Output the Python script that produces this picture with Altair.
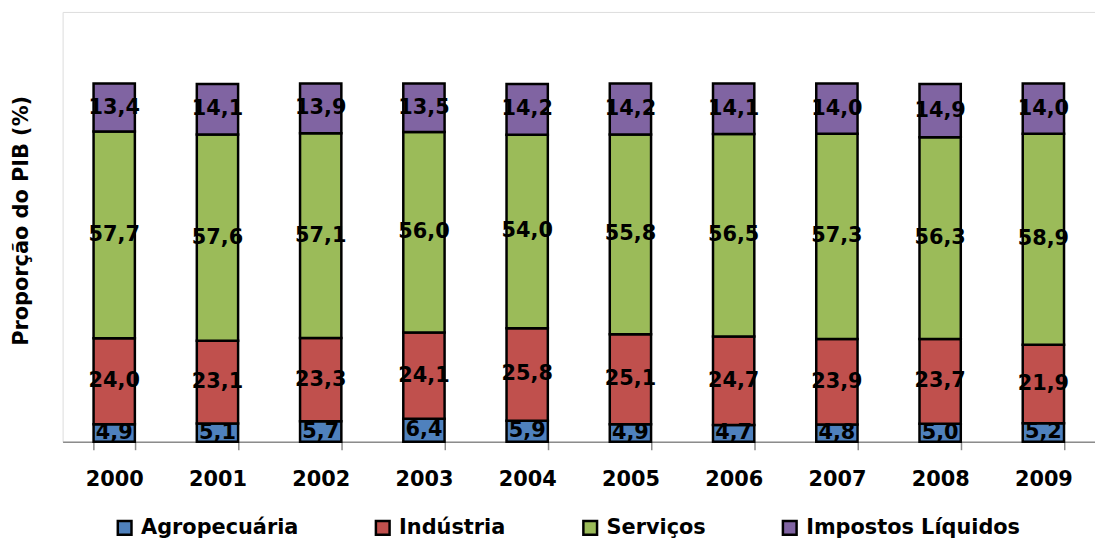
import altair as alt
import pandas as pd

years = ["2000", "2001", "2002", "2003", "2004", "2005", "2006", "2007", "2008", "2009"]
series = ["Agropecuária", "Indústria", "Serviços", "Impostos Líquidos"]
agro = [4.9, 5.1, 5.7, 6.4, 5.9, 4.9, 4.7, 4.8, 5.0, 5.2]
industria = [24.0, 23.1, 23.3, 24.1, 25.8, 25.1, 24.7, 23.9, 23.7, 21.9]
servicos = [57.7, 57.6, 57.1, 56.0, 54.0, 55.8, 56.5, 57.3, 56.3, 58.9]
impostos = [13.4, 14.1, 13.9, 13.5, 14.2, 14.2, 14.1, 14.0, 14.9, 14.0]
colors = ["#4f81bd", "#c0504d", "#9bbb59", "#8064a2"]

rows = []
for k, (name, vals) in enumerate(zip(series, [agro, industria, servicos, impostos])):
    for y, v in zip(years, vals):
        rows.append({"year": y, "series": name, "order": k, "value": v,
                     "label": f"{v:.1f}".replace(".", ",")})
df = pd.DataFrame(rows)

FONT = "DejaVu Sans"

base = alt.Chart(df).transform_stack(
    stack="value", groupby=["year"], as_=["y0", "y1"], sort=[alt.SortField("order")]
).transform_calculate(mid="(datum.y0 + datum.y1) / 2")

x_enc = alt.X("year:N", sort=years,
              scale=alt.Scale(paddingInner=0.6, paddingOuter=0.3),
              axis=alt.Axis(title=None, labelAngle=0, labelFont=FONT, labelFontSize=21,
                            labelFontWeight="bold", labelColor="#000000", labelPadding=19,
                            tickBand="extent", tickSize=8, tickColor="#8c8c8c", tickWidth=1.5,
                            domainColor="#8c8c8c", domainWidth=1.5, grid=False))

bars = base.mark_bar(stroke="#000000", strokeWidth=2.5).encode(
    x=x_enc,
    y=alt.Y("y0:Q", scale=alt.Scale(domain=[0, 120]),
            axis=alt.Axis(title="Proporção do PIB (%)", labels=False, ticks=False, domain=False,
                          grid=False, titleFont=FONT, titleFontSize=21, titleFontWeight="bold",
                          titleColor="#000000", titleX=-31, titleY=210)),
    y2="y1:Q",
    color=alt.Color("series:N", sort=series,
                    scale=alt.Scale(domain=series, range=colors),
                    legend=alt.Legend(title=None, orient="none", direction="horizontal",
                                      legendX=52, legendY=509, symbolType="square",
                                      symbolSize=190, symbolStrokeColor="#000000",
                                      symbolStrokeWidth=2.5, labelFont=FONT, labelFontSize=21,
                                      labelFontWeight="bold", labelColor="#000000",
                                      columnPadding=72, labelOffset=6, labelLimit=400)),
    order=alt.Order("order:Q"),
)

labels = base.mark_text(font=FONT, fontSize=21, fontWeight="bold", color="#000000").encode(
    x=alt.X("year:N", sort=years),
    y=alt.Y("mid:Q"),
    text="label:N",
)

chart = alt.layer(bars, labels).properties(
    width=1040, height=433,
    autosize=alt.AutoSizeParams(type="none"),
    padding={"left": 55, "top": 2, "right": 0, "bottom": 98},
).configure_view(fill="#dce6f2", stroke=None).configure(background="#ffffff")

chart.save("out.html", embed_options={"renderer": "svg", "actions": False})
